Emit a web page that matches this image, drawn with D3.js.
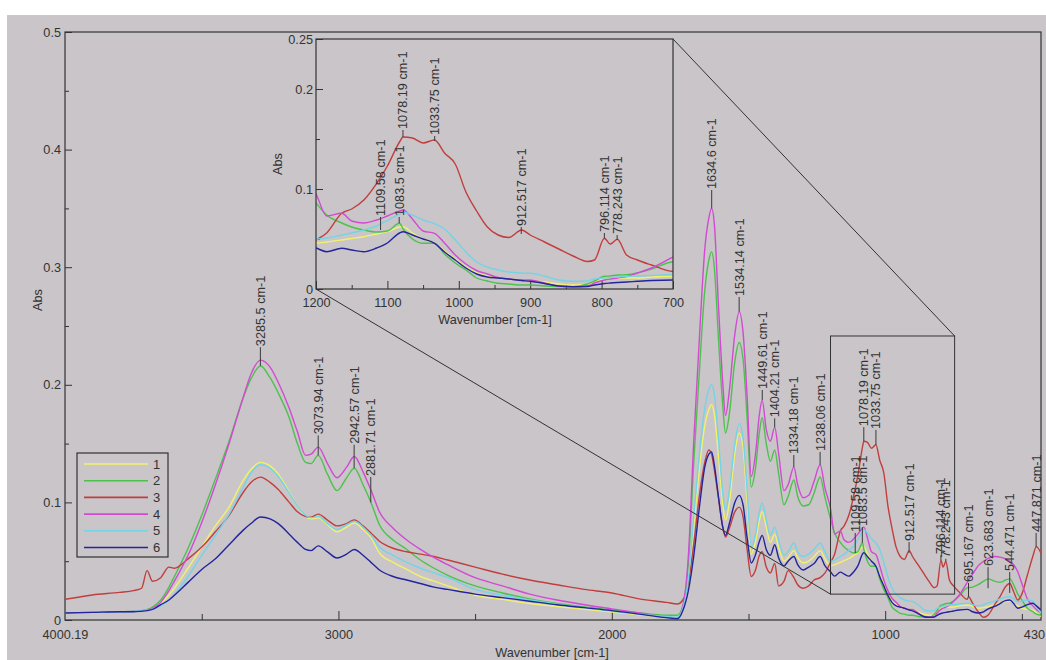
<!DOCTYPE html>
<html><head><meta charset="utf-8">
<script src="https://cdn.jsdelivr.net/npm/d3@7"></script>
<style>
html,body{margin:0;padding:0;background:#fff;}
svg{display:block;font-family:"Liberation Sans",Arial,sans-serif;}
</style></head>
<body>
<svg id="chart" width="1046" height="660"></svg>
<script>
// ---------------- DATA ----------------
const wavenumbers = [4000,3900,3800,3750,3720,3700,3680,3650,3620,3600,
3550,3500,3450,3400,3350,3320,3285,3250,3220,3180,
3150,3120,3100,3074,3040,3005,2970,2942,2910,2881,
2850,2800,2750,2700,2650,2600,2500,2400,2300,2200,
2100,2000,1900,1800,1760,1740,1720,1700,1680,1660,
1645,1635,1625,1610,1595,1584,1570,1550,1534,1520,
1505,1490,1475,1460,1450,1435,1420,1404,1390,1370,
1355,1334,1320,1300,1280,1260,1238,1220,1200,1185,
1164,1150,1133,1115,1100,1083,1078,1065,1050,1034,
1020,1005,990,975,960,945,930,912,900,880,
860,840,820,810,796,788,778,765,750,730,
700,695,680,660,640,623,600,580,560,544,
530,515,500,480,460,447,430];

const series1 = [0.006,0.0065,0.007,0.0075,0.008,0.009,0.0105,0.0145,0.021,0.027,
0.044,0.062,0.080,0.096,0.118,0.128,0.134,0.131,0.124,0.109,
0.097,0.088,0.086,0.087,0.081,0.075,0.079,0.0825,0.077,0.070,
0.057,0.049,0.043,0.037,0.033,0.029,0.021,0.0175,0.014,0.0115,
0.009,0.0068,0.0045,0.003,0.003,0.009,0.032,0.080,0.128,0.165,
0.179,0.183,0.175,0.140,0.100,0.085,0.100,0.142,0.159,0.147,
0.100,0.056,0.066,0.085,0.092,0.079,0.066,0.073,0.062,0.050,
0.053,0.059,0.053,0.0485,0.050,0.054,0.059,0.052,0.046,0.047,
0.049,0.0505,0.0523,0.055,0.0573,0.062,0.0623,0.056,0.050,0.0457,
0.038,0.030,0.022,0.016,0.013,0.011,0.010,0.009,0.009,0.007,
0.005,0.004,0.0045,0.007,0.010,0.011,0.011,0.011,0.011,0.012,
0.0127,0.0127,0.0115,0.010,0.0105,0.0113,0.013,0.0145,0.0156,0.016,
0.014,0.012,0.010,0.009,0.0085,0.006,0.003];

const series2 = [0.006,0.0065,0.007,0.0075,0.008,0.009,0.011,0.017,0.028,0.037,
0.061,0.089,0.120,0.152,0.188,0.205,0.216,0.206,0.193,0.172,
0.150,0.134,0.133,0.140,0.124,0.110,0.121,0.129,0.115,0.100,
0.081,0.068,0.060,0.051,0.044,0.038,0.029,0.023,0.018,0.014,
0.011,0.0085,0.006,0.004,0.004,0.012,0.048,0.135,0.210,0.280,
0.306,0.313,0.300,0.240,0.185,0.159,0.175,0.220,0.236,0.222,
0.172,0.113,0.128,0.160,0.172,0.150,0.135,0.1445,0.125,0.098,
0.105,0.119,0.105,0.097,0.098,0.108,0.1216,0.104,0.086,0.074,
0.066,0.062,0.059,0.057,0.058,0.0657,0.060,0.050,0.0457,0.0457,
0.035,0.026,0.019,0.011,0.008,0.0057,0.005,0.004,0.004,0.003,
0.0025,0.0023,0.005,0.008,0.0127,0.013,0.014,0.0143,0.016,0.020,
0.0273,0.0275,0.028,0.030,0.033,0.035,0.033,0.032,0.034,0.035,
0.030,0.022,0.017,0.010,0.007,0.005,0.004];

const series3 = [0.0176,0.0213,0.0235,0.025,0.027,0.042,0.033,0.036,0.045,0.044,
0.052,0.062,0.075,0.089,0.108,0.117,0.1215,0.117,0.111,0.100,
0.092,0.088,0.0875,0.090,0.085,0.080,0.082,0.085,0.080,0.074,
0.067,0.061,0.058,0.056,0.054,0.051,0.045,0.039,0.034,0.030,
0.026,0.023,0.018,0.015,0.0136,0.017,0.032,0.065,0.105,0.134,
0.1445,0.141,0.128,0.104,0.080,0.0705,0.078,0.092,0.096,0.088,
0.060,0.037,0.042,0.055,0.058,0.045,0.040,0.048,0.029,0.033,
0.042,0.036,0.030,0.027,0.029,0.034,0.036,0.040,0.049,0.056,
0.0757,0.080,0.089,0.1057,0.123,0.147,0.152,0.151,0.146,0.149,
0.136,0.125,0.097,0.078,0.062,0.054,0.0515,0.059,0.054,0.047,
0.040,0.033,0.0275,0.029,0.0507,0.045,0.0497,0.034,0.029,0.024,
0.0175,0.0198,0.0142,0.007,0.0023,0.0043,0.0128,0.0198,0.0283,0.031,
0.024,0.017,0.022,0.038,0.054,0.0624,0.0567];

const series4 = [0.006,0.0065,0.007,0.0075,0.008,0.0085,0.010,0.015,0.025,0.033,
0.055,0.083,0.115,0.150,0.188,0.209,0.221,0.215,0.202,0.180,
0.160,0.140,0.141,0.147,0.133,0.121,0.130,0.139,0.126,0.1105,
0.092,0.078,0.068,0.060,0.053,0.047,0.036,0.029,0.022,0.017,
0.013,0.0095,0.006,0.0025,0.002,0.012,0.054,0.153,0.238,0.315,
0.342,0.350,0.337,0.268,0.205,0.174,0.195,0.243,0.262,0.245,
0.190,0.122,0.140,0.175,0.187,0.162,0.152,0.164,0.142,0.110,
0.115,0.130,0.115,0.104,0.106,0.118,0.132,0.112,0.095,0.073,
0.0757,0.068,0.066,0.069,0.073,0.078,0.079,0.070,0.058,0.0557,
0.046,0.034,0.025,0.0185,0.015,0.0115,0.010,0.009,0.009,0.006,
0.003,0.0023,0.003,0.006,0.009,0.010,0.011,0.0125,0.016,0.021,
0.032,0.034,0.039,0.046,0.050,0.0525,0.054,0.0535,0.052,0.050,
0.047,0.041,0.031,0.018,0.012,0.009,0.006];

const series5 = [0.006,0.0065,0.007,0.0075,0.008,0.0085,0.0095,0.012,0.017,0.022,
0.037,0.055,0.072,0.090,0.112,0.125,0.132,0.129,0.122,0.108,
0.097,0.089,0.087,0.088,0.082,0.077,0.081,0.084,0.079,0.072,
0.062,0.055,0.049,0.044,0.040,0.036,0.026,0.021,0.017,0.0135,
0.0105,0.0075,0.005,0.003,0.0025,0.010,0.035,0.088,0.140,0.180,
0.196,0.200,0.192,0.155,0.110,0.0935,0.110,0.150,0.167,0.155,
0.110,0.062,0.072,0.092,0.0995,0.085,0.072,0.079,0.068,0.055,
0.058,0.0655,0.058,0.054,0.056,0.060,0.0655,0.058,0.050,0.051,
0.054,0.056,0.059,0.063,0.0685,0.075,0.0767,0.074,0.069,0.0655,
0.060,0.049,0.037,0.027,0.022,0.019,0.017,0.016,0.0157,0.013,
0.009,0.0077,0.008,0.010,0.011,0.0115,0.012,0.0127,0.013,0.0135,
0.0143,0.0143,0.013,0.012,0.013,0.0145,0.016,0.018,0.0195,0.020,
0.018,0.0155,0.016,0.017,0.016,0.012,0.0057];

const series6 = [0.006,0.0065,0.007,0.007,0.0075,0.008,0.009,0.013,0.017,0.021,
0.032,0.043,0.052,0.064,0.076,0.082,0.0876,0.086,0.082,0.073,
0.066,0.060,0.059,0.063,0.058,0.0527,0.056,0.060,0.055,0.049,
0.0425,0.037,0.034,0.031,0.028,0.026,0.022,0.019,0.016,0.013,
0.0105,0.008,0.005,0.002,0.001,0.008,0.025,0.055,0.095,0.130,
0.141,0.143,0.132,0.105,0.080,0.072,0.082,0.100,0.106,0.098,
0.070,0.0485,0.055,0.067,0.072,0.060,0.055,0.064,0.053,0.046,
0.050,0.054,0.047,0.0425,0.045,0.048,0.054,0.046,0.041,0.0373,
0.0407,0.039,0.0373,0.041,0.046,0.056,0.0573,0.054,0.050,0.0457,
0.037,0.029,0.021,0.015,0.012,0.011,0.010,0.0085,0.0077,0.0055,
0.003,0.0023,0.0025,0.004,0.0055,0.006,0.0065,0.007,0.0077,0.0085,
0.009,0.0088,0.007,0.006,0.007,0.0095,0.0115,0.014,0.0165,0.017,
0.014,0.010,0.011,0.013,0.0142,0.012,0.0085];

const seriesNames = ["1","2","3","4","5","6"];
const seriesColors = ["#f2f26a","#4cc24c","#c23e3e","#d24ad2","#74d4e6","#24249c"];

// axis ticks
const xMajorTicks = [3000,2000,1000];
const xMinorTicks = [3500,2500,1500,500];
const xStartLabel = 4000.19;
const xEndLabel = 430;
const yMajorTicks = [0,0.1,0.2,0.3,0.4,0.5];
const yMinorTicks = [0.05,0.15,0.25,0.35,0.45];
const insetXMajor = [1200,1100,1000,900,800,700];
const insetXMinor = [1150,1050,950,850,750];
const insetYMajor = [0,0.1,0.2,0.25];
const insetYMinor = [0.05,0.15];

// peak annotations (main plot)
const mainPeakText = ["3285.5 cm-1","3073.94 cm-1","2942.57 cm-1","2881.71 cm-1","1634.6 cm-1","1534.14 cm-1","1449.61 cm-1","1404.21 cm-1","1334.18 cm-1","1238.06 cm-1","1109.58 cm-1","1083.5 cm-1","1078.19 cm-1","1033.75 cm-1","912.517 cm-1","796.114 cm-1","778.243 cm-1","695.167 cm-1","623.683 cm-1","544.471 cm-1","447.871 cm-1"];
const mainPeakWn = [3285.5,3073.94,2942.57,2881.71,1634.6,1534.14,1449.61,1404.21,1334.18,1238.06,1109.58,1083.5,1078.19,1033.75,912.517,796.114,778.243,695.167,623.683,544.471,447.871];
const mainPeakAbs = [0.216,0.140,0.129,0.100,0.350,0.262,0.187,0.164,0.130,0.132,0.057,0.0657,0.152,0.149,0.057,0.0507,0.0497,0.0196,0.027,0.023,0.062];
const mainLabelAbs = [0.232,0.157,0.149,0.1216,0.3656,0.2747,0.1956,0.1715,0.1403,0.1429,0.074,0.079,0.164,0.1616,0.0663,0.055,0.052,0.0315,0.045,0.0408,0.074];

// peak annotations (inset)
const insetPeakText = ["1109.58 cm-1","1083.5 cm-1","1078.19 cm-1","1033.75 cm-1","912.517 cm-1","796.114 cm-1","778.243 cm-1"];
const insetPeakWn = [1109.58,1083.5,1078.19,1033.75,912.517,796.114,778.243];
const insetPeakAbs = [0.059,0.0657,0.152,0.148,0.055,0.0507,0.049];
const insetLabelAbs = [0.072,0.072,0.159,0.153,0.062,0.056,0.054];

// zoom box region in main plot
const zoomBoxWn = [1200,746];
const zoomBoxAbs = [0.022,0.2415];

// ---------------- DRAW ----------------
const svg = d3.select("#chart");
const ink = "#333";
const FS = 12.7;

svg.append("rect").attr("x",7).attr("y",15).attr("width",1039).attr("height",645).attr("fill","#c9c5c9");

const x = d3.scaleLinear().domain([4000.19,430]).range([65,1041]);
const y = d3.scaleLinear().domain([0,0.5]).range([620,32]);
const xi = d3.scaleLinear().domain([1200,700]).range([316,673]);
const yi = d3.scaleLinear().domain([0,0.25]).range([289,39]);

const defs = svg.append("defs");
defs.append("clipPath").attr("id","clipMain").append("rect")
  .attr("x",65).attr("y",32).attr("width",976).attr("height",588);
defs.append("clipPath").attr("id","clipInset").append("rect")
  .attr("x",316).attr("y",39).attr("width",357).attr("height",250);

const allSeries = [series1,series2,series3,series4,series5,series6];
const dataSets = allSeries.map(s => wavenumbers.map((w,i)=>[w,s[i]]));

function styleAxis(g){
  g.select(".domain").remove();
  g.selectAll("line").attr("stroke",ink);
  g.selectAll("text").attr("fill",ink).style("font-size",FS+"px")
   .style("font-family",'"Liberation Sans",Arial,sans-serif');
}

// main axes
svg.append("g").attr("transform","translate(0,620)")
  .call(d3.axisBottom(x).tickValues(xMajorTicks).tickSize(-9).tickSizeOuter(0).tickPadding(10).tickFormat(d3.format("d"))).call(styleAxis);
svg.append("g").attr("transform","translate(0,620)")
  .call(d3.axisBottom(x).tickValues(xMinorTicks).tickSize(-6).tickSizeOuter(0).tickFormat("")).call(styleAxis);
svg.append("g").attr("transform","translate(0,620)")
  .call(d3.axisBottom(x).tickValues([xStartLabel]).tickSize(0).tickSizeOuter(0).tickPadding(10).tickFormat(d=>String(d))).call(styleAxis);
svg.append("text").attr("x",1045).attr("y",630).attr("dy","0.71em").attr("text-anchor","end")
  .attr("fill",ink).style("font-size",FS+"px").text(String(xEndLabel));
svg.append("g").attr("transform","translate(65,0)")
  .call(d3.axisLeft(y).tickValues(yMajorTicks).tickSize(-7).tickSizeOuter(0).tickPadding(4).tickFormat(d=>d===0?"0":d3.format(".1f")(d))).call(styleAxis);
svg.append("g").attr("transform","translate(65,0)")
  .call(d3.axisLeft(y).tickValues(yMinorTicks).tickSize(-4).tickSizeOuter(0).tickFormat("")).call(styleAxis);

svg.append("rect").attr("x",65).attr("y",32).attr("width",976).attr("height",588)
  .attr("fill","none").attr("stroke",ink).attr("stroke-width",1.2);

svg.append("text").attr("x",552).attr("y",657).attr("text-anchor","middle")
  .attr("fill",ink).style("font-size",FS+"px").text("Wavenumber [cm-1]");
svg.append("text").attr("transform","translate(42,300) rotate(-90)").attr("text-anchor","middle")
  .attr("fill",ink).style("font-size",FS+"px").text("Abs");

// main spectra
const lineMain = d3.line().x(d=>x(d[0])).y(d=>y(d[1])).curve(d3.curveMonotoneX);
const gMain = svg.append("g").attr("clip-path","url(#clipMain)");
dataSets.forEach((ds,i)=>{
  gMain.append("path").datum(ds).attr("d",lineMain).attr("fill","none")
    .attr("stroke",seriesColors[i]).attr("stroke-width",1.4).attr("stroke-linejoin","round");
});

// zoom box and connectors
const bx0 = x(zoomBoxWn[0]), bx1 = x(zoomBoxWn[1]);
const by0 = y(zoomBoxAbs[1]), by1 = y(zoomBoxAbs[0]);
svg.append("rect").attr("x",bx0).attr("y",by0).attr("width",bx1-bx0).attr("height",by1-by0)
  .attr("fill","none").attr("stroke",ink).attr("stroke-width",1);
svg.append("line").attr("x1",xi(1200)).attr("y1",yi(0)).attr("x2",bx0).attr("y2",by1).attr("stroke",ink);
svg.append("line").attr("x1",xi(700)).attr("y1",yi(0.25)).attr("x2",bx1).attr("y2",by0).attr("stroke",ink);

// peak labels
function peakLabels(g, xs, ys, texts, wns, ends, starts){
  texts.forEach((t,i)=>{
    const px = xs(wns[i]);
    g.append("line").attr("x1",px).attr("x2",px).attr("y1",ys(ends[i])).attr("y2",ys(starts[i]))
      .attr("stroke","#3a3a3a").attr("stroke-width",1);
    g.append("text").attr("transform",`translate(${px},${ys(starts[i])-1}) rotate(-90)`)
      .attr("dy","0.35em").attr("fill",ink).style("font-size",FS+"px").text(t);
  });
}
peakLabels(svg.append("g"), x, y, mainPeakText, mainPeakWn, mainPeakAbs, mainLabelAbs);

// legend
const leg = svg.append("g");
leg.append("rect").attr("x",77).attr("y",453).attr("width",91).attr("height",104)
  .attr("fill","none").attr("stroke",ink).attr("stroke-width",1.2);
seriesNames.forEach((n,i)=>{
  const ly = 464 + i*16.7;
  leg.append("line").attr("x1",84).attr("x2",148).attr("y1",ly).attr("y2",ly)
    .attr("stroke",seriesColors[i]).attr("stroke-width",1.6);
  leg.append("text").attr("x",153).attr("y",ly).attr("dy","0.36em").attr("fill",ink)
    .style("font-size","13px").text(n);
});

// inset
svg.append("g").attr("transform","translate(0,289)")
  .call(d3.axisBottom(xi).tickValues(insetXMajor).tickSize(-8).tickSizeOuter(0).tickPadding(9).tickFormat(d3.format("d"))).call(styleAxis);
svg.append("g").attr("transform","translate(0,289)")
  .call(d3.axisBottom(xi).tickValues(insetXMinor).tickSize(-4).tickSizeOuter(0).tickFormat("")).call(styleAxis);
svg.append("g").attr("transform","translate(316,0)")
  .call(d3.axisLeft(yi).tickValues(insetYMajor).tickSize(-7).tickSizeOuter(0).tickPadding(3).tickFormat(d=>d===0?"0":String(d))).call(styleAxis);
svg.append("g").attr("transform","translate(316,0)")
  .call(d3.axisLeft(yi).tickValues(insetYMinor).tickSize(-4).tickSizeOuter(0).tickFormat("")).call(styleAxis);

const gInset = svg.append("g").attr("clip-path","url(#clipInset)");
const lineInset = d3.line().x(d=>xi(d[0])).y(d=>yi(d[1])).curve(d3.curveMonotoneX);
dataSets.forEach((ds,i)=>{
  gInset.append("path").datum(ds.filter(d=>d[0]<=1240 && d[0]>=680)).attr("d",lineInset).attr("fill","none")
    .attr("stroke",seriesColors[i]).attr("stroke-width",1.4).attr("stroke-linejoin","round");
});
svg.append("rect").attr("x",316).attr("y",39).attr("width",357).attr("height",250)
  .attr("fill","none").attr("stroke",ink).attr("stroke-width",1.2);
peakLabels(svg.append("g"), xi, yi, insetPeakText, insetPeakWn, insetPeakAbs, insetLabelAbs);

svg.append("text").attr("x",495).attr("y",324).attr("text-anchor","middle")
  .attr("fill",ink).style("font-size",FS+"px").text("Wavenumber [cm-1]");
svg.append("text").attr("transform","translate(282,164) rotate(-90)").attr("text-anchor","middle")
  .attr("fill",ink).style("font-size",FS+"px").text("Abs");
</script>
</body></html>
